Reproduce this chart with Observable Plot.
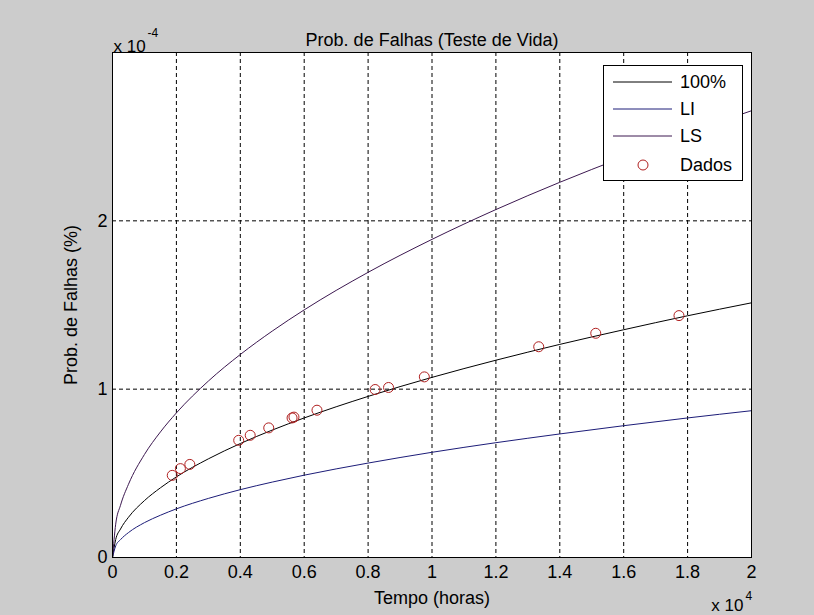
<!DOCTYPE html>
<html><head><meta charset="utf-8">
<script src="https://cdn.jsdelivr.net/npm/d3@7"></script>
<script src="https://cdn.jsdelivr.net/npm/@observablehq/plot@0.6"></script>
<style>
body{margin:0;background:#cccccc;}
#wrap{position:relative;width:814px;height:615px;background:#cccccc;font-family:"Liberation Sans",Arial,sans-serif;}
#legend{position:absolute;left:603px;top:65px;width:140px;height:116px;}
</style></head><body><div id="wrap"></div>
<script>
// Curve sample points (x in hours, y in units of 1e-4)
const xHours = [0,100,250,500,1000,1500,2000,3000,4000,5000,6000,8000,10000,12000,14000,16000,18000,20000];
const y100 = [0,0.107,0.169,0.239,0.338,0.414,0.479,0.586,0.677,0.757,0.829,0.957,1.070,1.172,1.266,1.353,1.436,1.513];
const yLI  = [0,0.069,0.106,0.148,0.207,0.251,0.289,0.351,0.403,0.448,0.489,0.561,0.625,0.682,0.734,0.783,0.829,0.872];
const yLS  = [0,0.198,0.310,0.435,0.612,0.746,0.859,1.048,1.206,1.345,1.471,1.694,1.890,2.067,2.229,2.379,2.521,2.654];
// Observed data
const dataX = [1870,2125,2420,3950,4310,4890,5620,5680,6400,8220,8640,9760,13340,15125,17730];
const dataY = [0.488,0.528,0.553,0.696,0.726,0.770,0.829,0.834,0.875,0.998,1.010,1.073,1.252,1.332,1.437];
// Ticks
const xTicks = [0,2000,4000,6000,8000,10000,12000,14000,16000,18000,20000];
const yTicks = [0,1,2];
const seriesNames = ["100%","LI","LS","Dados"];
const seriesColors = ["#000000","#1c1c78","#3c1850","#b02020"];

const curves = [
  {name:"100%", ys:y100, color:seriesColors[0]},
  {name:"LI", ys:yLI, color:seriesColors[1]},
  {name:"LS", ys:yLS, color:seriesColors[2]}
];
const curveRows = curves.flatMap(c => xHours.map((x,i)=>({x, y:c.ys[i], s:c.name})));
const points = dataX.map((x,i)=>({x, y:dataY[i]}));
const fmtX = d => String(+(d/1e4).toFixed(1));
const fmtY = d => String(d);

const font = '"Liberation Sans", Arial, sans-serif';
const chart = Plot.plot({
  width:814, height:615,
  marginLeft:112, marginRight:63, marginTop:52, marginBottom:58,
  style:{background:"transparent", fontFamily:font, fontSize:"18px", color:"#000"},
  x:{domain:[0,20000], ticks:xTicks, tickFormat:fmtX, label:null},
  y:{domain:[0,3], ticks:yTicks, tickFormat:fmtY, label:null},
  color:{domain:curves.map(c=>c.name), range:curves.map(c=>c.color)},
  marks:[
    Plot.frame({fill:"white"}),
    Plot.gridX(xTicks.slice(1,-1), {stroke:"#000", strokeOpacity:1, strokeDasharray:"4,3"}),
    Plot.gridY(yTicks.slice(1), {stroke:"#000", strokeOpacity:1, strokeDasharray:"4,3"}),
    Plot.line(curveRows, {x:"x", y:"y", z:"s", stroke:"s", strokeWidth:1, curve:"monotone-x"}),
    Plot.dot(points, {x:"x", y:"y", r:5, stroke:seriesColors[3], fill:"none", strokeWidth:1}),
    Plot.frame({stroke:"#000"}),
    Plot.axisX({ticks:xTicks, tickFormat:fmtX, tickSize:0, tickPadding:8, fontSize:18, label:null}),
    Plot.axisY({ticks:yTicks, tickFormat:fmtY, tickSize:0, tickPadding:5, fontSize:18, label:null}),
    Plot.text(["Prob. de Falhas (Teste de Vida)"], {frameAnchor:"top", dy:-19, fontSize:18}),
    Plot.text(["x 10"], {frameAnchor:"top-left", dx:1, dy:-13, textAnchor:"start", fontSize:17}),
    Plot.text(["-4"], {frameAnchor:"top-left", dx:35, dy:-24, textAnchor:"start", fontSize:12}),
    Plot.text(["Prob. de Falhas (%)"], {frameAnchor:"left", dx:-41, rotate:-90, textAnchor:"middle", fontSize:18}),
    Plot.text(["Tempo (horas)"], {frameAnchor:"bottom", dy:46, fontSize:18}),
    Plot.text(["x 10"], {frameAnchor:"bottom-right", dx:-8, dy:53, textAnchor:"end", fontSize:17}),
    Plot.text(["4"], {frameAnchor:"bottom-right", dx:-6, dy:42, textAnchor:"start", fontSize:12})
  ]
});
const wrap = document.getElementById("wrap");
wrap.appendChild(chart);
chart.style.position = "absolute"; chart.style.left = "0"; chart.style.top = "0";

// Legend
const leg = d3.select(wrap).append("svg").attr("id","legend").attr("width",140).attr("height",116);
leg.append("rect").attr("x",0.5).attr("y",0.5).attr("width",139).attr("height",115).attr("fill","#fff").attr("stroke","#000");
const rowY = [17,44,71,100];
seriesNames.forEach((n,i)=>{
  if (i < 3) {
    leg.append("line").attr("x1",10).attr("x2",69).attr("y1",rowY[i]).attr("y2",rowY[i]).attr("stroke",seriesColors[i]);
  } else {
    leg.append("circle").attr("cx",40).attr("cy",rowY[i]).attr("r",5).attr("fill","none").attr("stroke",seriesColors[3]);
  }
  leg.append("text").attr("x",77).attr("y",rowY[i]).attr("dy","0.35em").attr("font-family",font).attr("font-size",18).text(n);
});
</script></body></html>
